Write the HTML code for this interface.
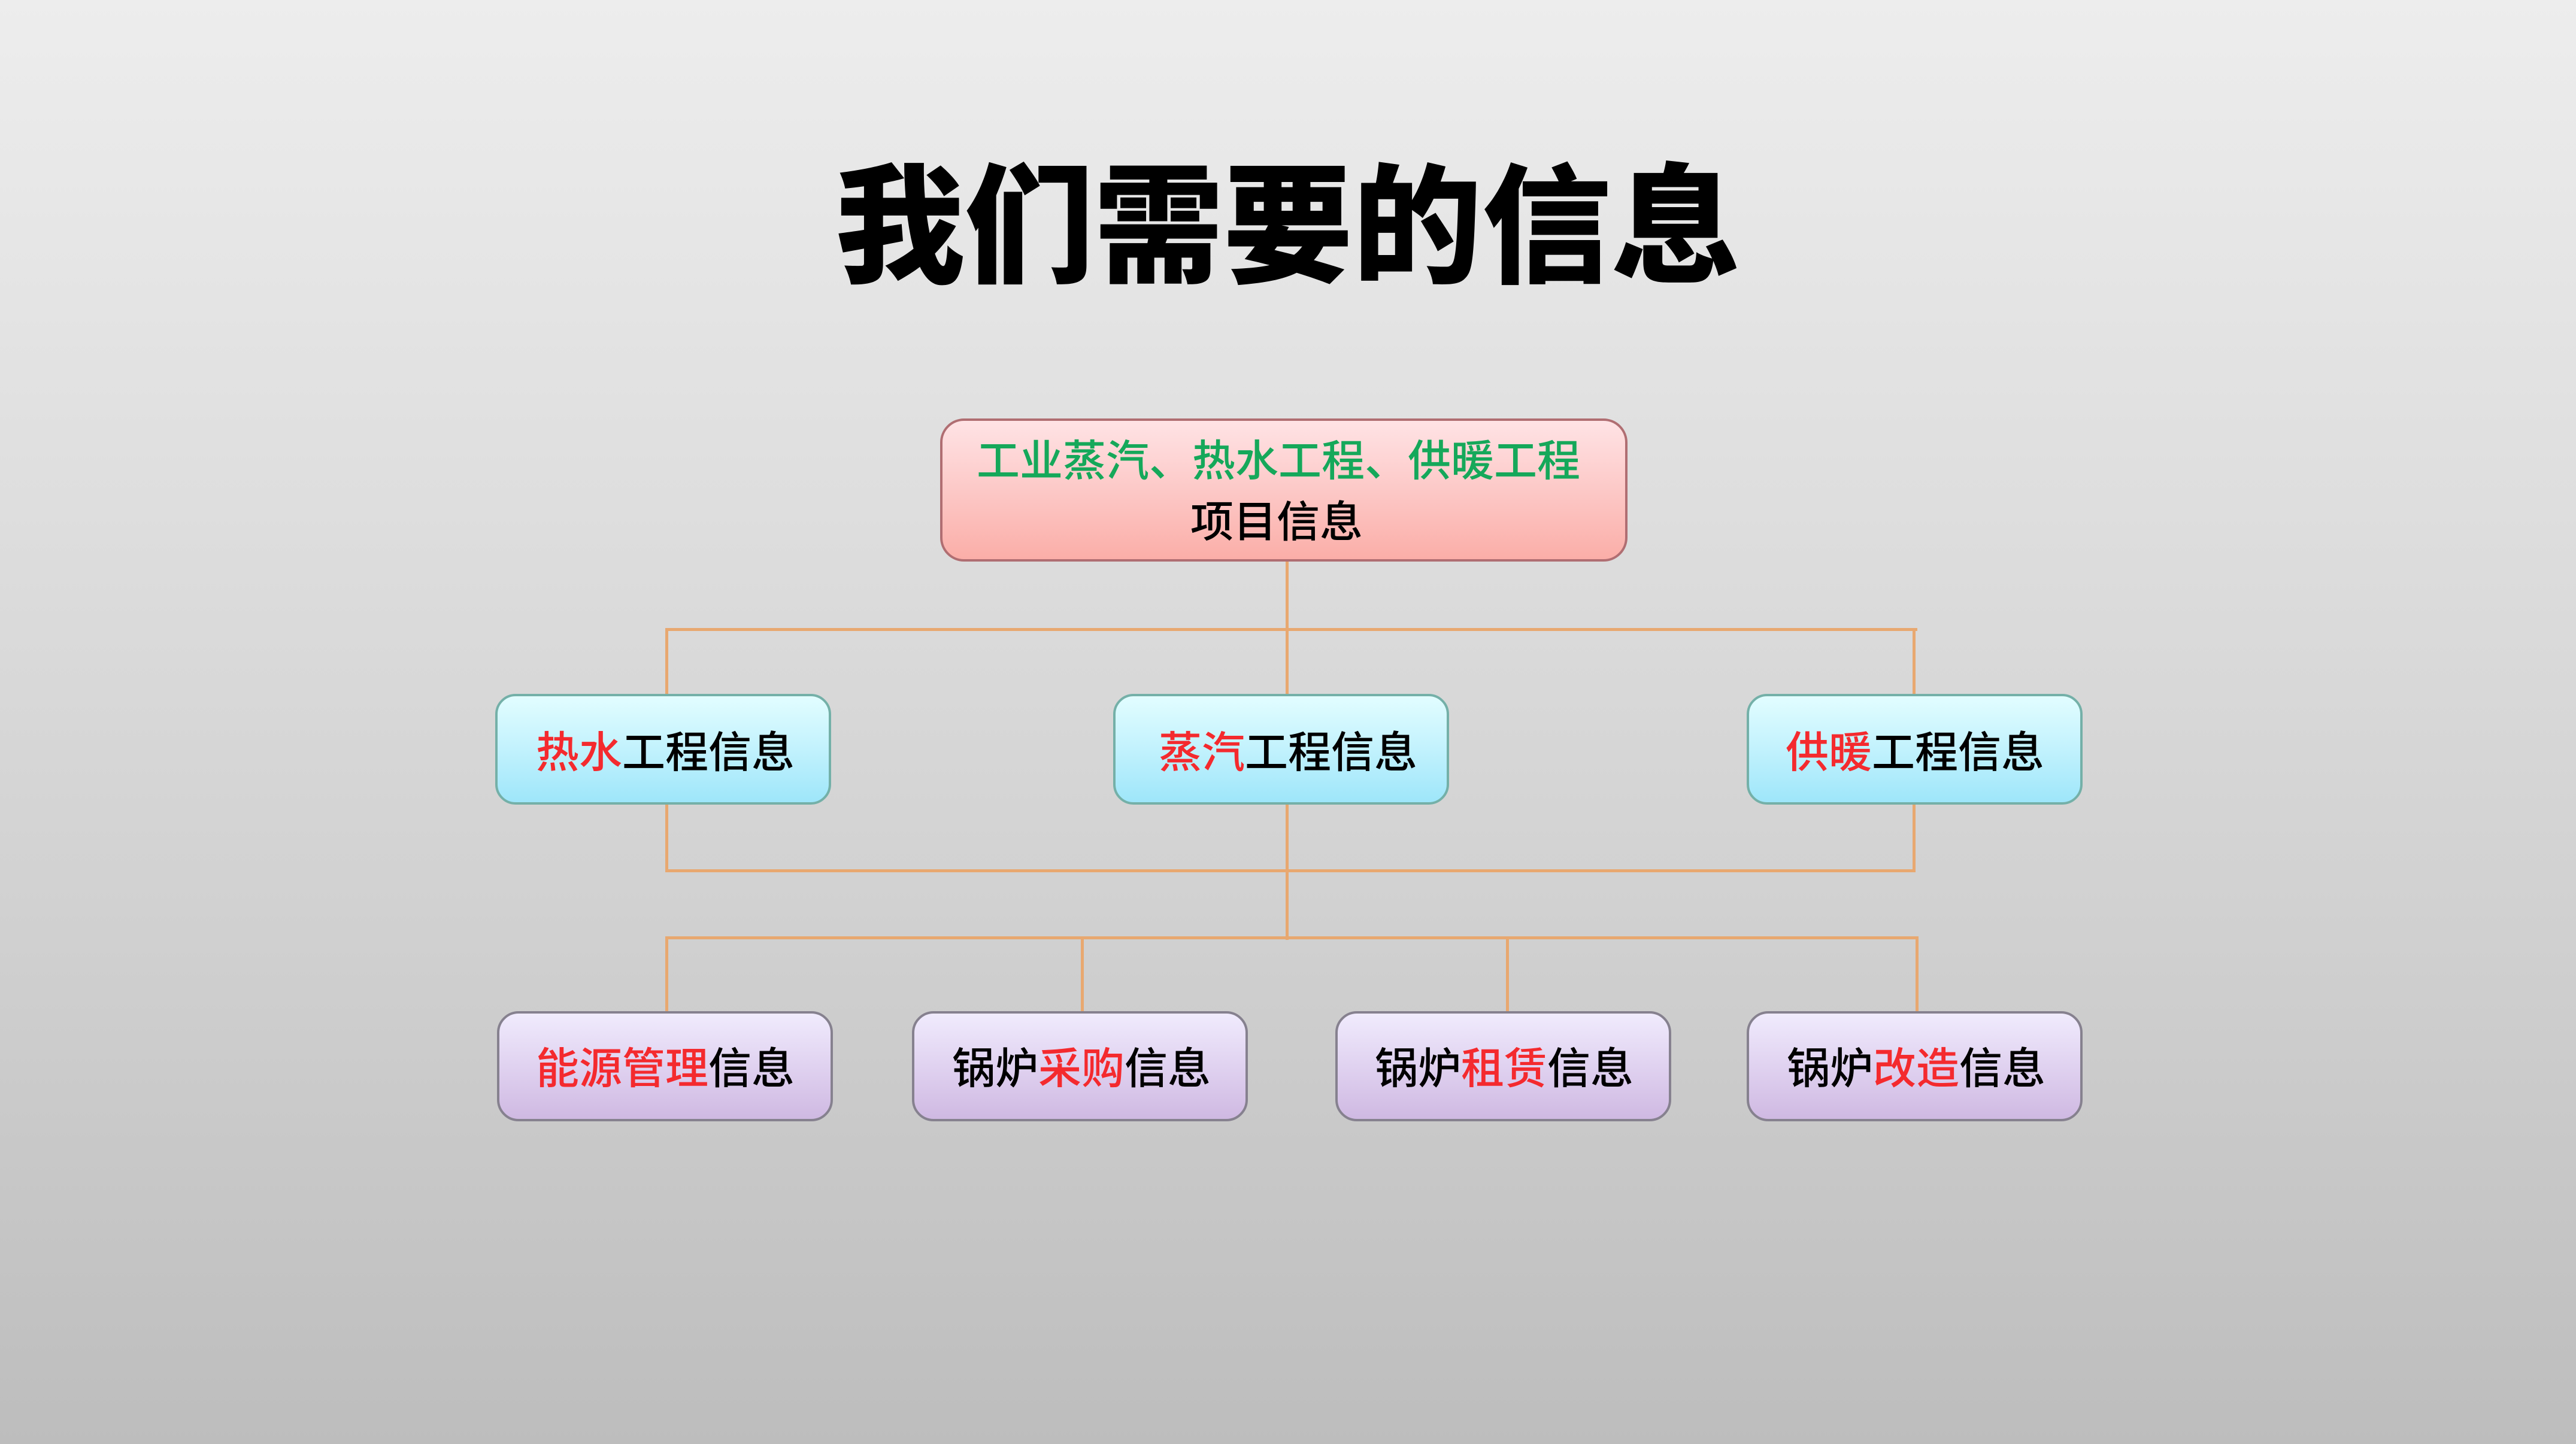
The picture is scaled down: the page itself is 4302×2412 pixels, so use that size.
<!DOCTYPE html>
<html>
<head>
<meta charset="utf-8">
<style>
  html, body { margin:0; padding:0; }
  body {
    width:4302px; height:2412px; position:relative; overflow:hidden;
    background: linear-gradient(to bottom, #ededed 0%, #dedede 35%, #d0d0d0 65%, #bdbdbd 100%);
    font-family: "Liberation Sans", "Noto Sans CJK SC", "WenQuanYi Zen Hei", sans-serif;
  }
  .ln { position:absolute; background:#e8a870; }
  .box { position:absolute; box-sizing:border-box; border-width:4px; border-style:solid; }
  .top { left:1570px; top:699px; width:1148px; height:239px; border-radius:40px;
         border-color:#b06e72; background:linear-gradient(to bottom,#ffe3e5 0%,#fcc6c4 55%,#fbaea8 100%); }
  .mid { top:1159px; height:185px; width:561px; border-radius:34px;
         border-color:#74b0a8; background:linear-gradient(to bottom,#e2fdff 0%,#c2f2fd 50%,#9ee6fa 100%); }
  .bot { top:1689px; height:184px; width:561px; border-radius:36px;
         border-color:#86818f; background:linear-gradient(to bottom,#f0ebfd 0%,#e0d2f0 50%,#cfb9e2 100%); }
  .t { position:absolute; width:2000px; text-align:center; white-space:nowrap;
       font-size:72px; line-height:72px; color:#000; font-weight:500; }
  .r { color:#f42a2e; }
  .g { color:#15a85a; }
  .title { position:absolute; left:0; width:4302px; top:272px; text-align:center;
           font-size:216px; line-height:216px; font-weight:900; color:#000; }
</style>
</head>
<body>
  <div class="title">我们需要的信息</div>

  <!-- connectors -->
  <div class="ln" style="left:2147px; top:930px; width:5px; height:640px;"></div>
  <div class="ln" style="left:1111px; top:1049px; width:2091px; height:5px;"></div>
  <div class="ln" style="left:1111px; top:1049px; width:5px; height:408px;"></div>
  <div class="ln" style="left:3194px; top:1049px; width:5px; height:408px;"></div>
  <div class="ln" style="left:1111px; top:1452px; width:2088px; height:5px;"></div>
  <div class="ln" style="left:1111px; top:1564px; width:2093px; height:5px;"></div>
  <div class="ln" style="left:1111px; top:1564px; width:5px; height:130px;"></div>
  <div class="ln" style="left:1805px; top:1564px; width:5px; height:130px;"></div>
  <div class="ln" style="left:2515px; top:1564px; width:5px; height:130px;"></div>
  <div class="ln" style="left:3199px; top:1564px; width:5px; height:130px;"></div>

  <!-- top box -->
  <div class="box top"></div>
  <div class="t g" style="left:1135px; top:735px;">工业蒸汽、热水工程、供暖工程</div>
  <div class="t" style="left:1132px; top:837px;">项目信息</div>

  <!-- middle boxes -->
  <div class="box mid" style="left:827px;"></div>
  <div class="box mid" style="left:1859px;"></div>
  <div class="box mid" style="left:2917px;"></div>
  <div class="t" style="left:111px; top:1222px;"><span class="r">热水</span>工程信息</div>
  <div class="t" style="left:1151px; top:1222px;"><span class="r">蒸汽</span>工程信息</div>
  <div class="t" style="left:2198px; top:1222px;"><span class="r">供暖</span>工程信息</div>

  <!-- bottom boxes -->
  <div class="box bot" style="left:830px;"></div>
  <div class="box bot" style="left:1523px;"></div>
  <div class="box bot" style="left:2230px;"></div>
  <div class="box bot" style="left:2917px;"></div>
  <div class="t" style="left:111px; top:1750px;"><span class="r">能源管理</span>信息</div>
  <div class="t" style="left:806px; top:1750px;">锅炉<span class="r">采购</span>信息</div>
  <div class="t" style="left:1512px; top:1750px;">锅炉<span class="r">租赁</span>信息</div>
  <div class="t" style="left:2200px; top:1750px;">锅炉<span class="r">改造</span>信息</div>
</body>
</html>
